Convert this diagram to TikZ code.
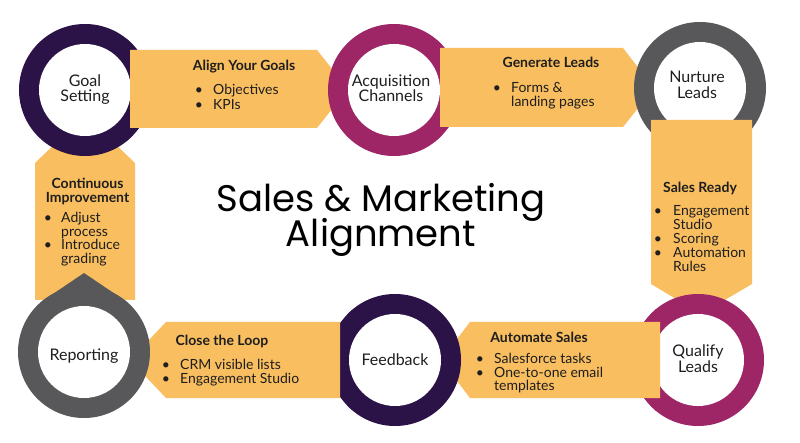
\documentclass[tikz,border=0pt]{standalone}
\usepackage{fontspec}
\setmainfont{Lato}
\newfontfamily\titlefont{Poppins}
\usetikzlibrary{calc}
\definecolor{gpurple}{HTML}{2B1247}
\definecolor{gmagenta}{HTML}{9E2566}
\definecolor{ggray}{HTML}{58585A}
\definecolor{gyellow}{HTML}{F9BE5F}
\definecolor{gtext}{HTML}{1E1E1E}
\newcommand\ringshape[4]{%
  \pgfmathsetmacro\angA{#3+acos(66/#4)+8}%
  \pgfmathsetmacro\angB{#3-acos(66/#4)-8}%
  \fill[#2] (#1) circle[radius=66];
  \fill[#2] ($(#1)+(#3:#4)$) -- ($(#1)+(\angA:66)$) -- (#1) -- ($(#1)+(\angB:66)$) -- cycle;
  \fill[white] (#1) circle[radius=46];
}
\tikzset{
  arrowfill/.style={fill=gyellow},
  lbl/.style={font=\fontsize{16}{16}\selectfont, text=gtext, inner sep=0pt, anchor=base},
  head/.style={font=\fontsize{14}{14}\bfseries\selectfont, text=gtext, inner sep=0pt, anchor=base},
  itm/.style={font=\fontsize{14}{14}\selectfont, text=gtext, inner sep=0pt, anchor=base west},
  bul/.style={font=\fontsize{14}{14}\selectfont, text=gtext, inner sep=0pt, anchor=base},
  ttl/.style={font=\titlefont\fontsize{37}{37}\selectfont, text=black, inner sep=0pt, anchor=base},
}
\begin{document}
\begin{tikzpicture}[x=1pt,y=-1pt]
\useasboundingbox (0,0) rectangle (800,443);
\fill[white] (0,0) rectangle (800,443);
\coordinate (goal) at (85,90);
\coordinate (acq) at (394,90);
\coordinate (nur) at (700,88);
\coordinate (qual) at (698,360);
\coordinate (feed) at (395,360);
\coordinate (rep) at (84,352);
% Continuous improvement arrow (up)
\fill[arrowfill] (35,300) -- (35,163) -- (85,115) -- (135,163) -- (135,300) -- cycle;
\ringshape{goal}{gpurple}{0}{89}
% Align your goals arrow
\fill[arrowfill] (130,50) -- (317,50) -- ($(acq)+(-46,-1)$) -- (317,128) -- (130,128) -- cycle;
\ringshape{acq}{gmagenta}{0}{88}
% Generate leads arrow
\fill[arrowfill] (440,48) -- (623,48) -- ($(nur)+(-46,0)$) -- (623,127) -- (440,127) -- cycle;
\ringshape{nur}{ggray}{90}{77}
% Sales ready arrow (down)
\fill[arrowfill] (651,120) -- (752,120) -- (752,284) -- ($(qual)+(3,-46)$) -- (651,284) -- cycle;
\ringshape{qual}{gmagenta}{180}{90}
% Automate sales arrow (left)
\fill[arrowfill] (660,322) -- (470,322) -- ($(feed)+(46,0)$) -- (470,398) -- (660,398) -- cycle;
\ringshape{feed}{gpurple}{180}{88}
% Close the loop arrow (left)
\fill[arrowfill] (340,322) -- (166,322) -- ($(rep)+(46,8)$) -- (166,398) -- (340,398) -- cycle;
\ringshape{rep}{ggray}{270}{79}

% circle labels
\node[lbl] (goal1) at (85,87) {Goal};
\node[lbl] (goal2) at (85,102) {Setting};
\node[lbl] (acq1) at (391,87) {Acquisition};
\node[lbl] (acq2) at (391,102) {Channels};
\node[lbl] (nur1) at (697,83) {Nurture};
\node[lbl] (nur2) at (697,99) {Leads};
\node[lbl] (qual1) at (698,356) {Qualify};
\node[lbl] (qual2) at (698,372) {Leads};
\node[lbl] (feed1) at (395,365) {Feedback};
\node[lbl] (rep1) at (84,360) {Reporting};

% Align your goals
\node[head] (h1) at (244,71) {Align Your Goals};
\node[bul] (b1a) at (199,95) {\textbullet};
\node[itm] (t1a) at (213,95) {Objectives};
\node[bul] (b1b) at (199,109.5) {\textbullet};
\node[itm] (t1b) at (213,109.5) {KPIs};

% Generate leads
\node[head] (h2) at (551,68) {Generate Leads};
\node[bul] (b2a) at (497,93) {\textbullet};
\node[itm] (t2a) at (511,93) {Forms \&};
\node[itm] (t2b) at (511,107) {landing pages};

% Sales ready
\node[head] (h3) at (700,193) {Sales Ready};
\node[bul] (b3a) at (658,216) {\textbullet};
\node[itm] (t3a) at (673,216) {Engagement};
\node[itm] (t3b) at (673,230) {Studio};
\node[bul] (b3c) at (658,244) {\textbullet};
\node[itm] (t3c) at (673,244) {Scoring};
\node[bul] (b3d) at (658,258) {\textbullet};
\node[itm] (t3d) at (673,258) {Automation};
\node[itm] (t3e) at (673,272) {Rules};

% Automate sales
\node[head] (h4) at (539,342) {Automate Sales};
\node[bul] (b4a) at (480,363) {\textbullet};
\node[itm] (t4a) at (494,363) {Salesforce tasks};
\node[bul] (b4b) at (480,377) {\textbullet};
\node[itm] (t4b) at (494,377) {One-to-one email};
\node[itm] (t4c) at (494,390.5) {templates};

% Close the loop
\node[head] (h5) at (222,345) {Close the Loop};
\node[bul] (b5a) at (166,370) {\textbullet};
\node[itm] (t5a) at (180,370) {CRM visible lists};
\node[bul] (b5b) at (166,383.5) {\textbullet};
\node[itm] (t5b) at (180,383.5) {Engagement Studio};

% Continuous improvement
\node[head] (h6a) at (87.5,189) {Continuous};
\node[head] (h6b) at (87.5,203) {Improvement};
\node[bul] (b6a) at (48,223) {\textbullet};
\node[itm] (t6a) at (61,223) {Adjust};
\node[itm] (t6b) at (61,236.5) {process};
\node[bul] (b6c) at (48,250) {\textbullet};
\node[itm] (t6c) at (61,250) {Introduce};
\node[itm] (t6d) at (61,263.5) {grading};

% Title
\node[ttl] (title1) at (381,212) {Sales \& Marketing};
\node[ttl] (title2) at (381,247) {Alignment};
\end{tikzpicture}
\end{document}
